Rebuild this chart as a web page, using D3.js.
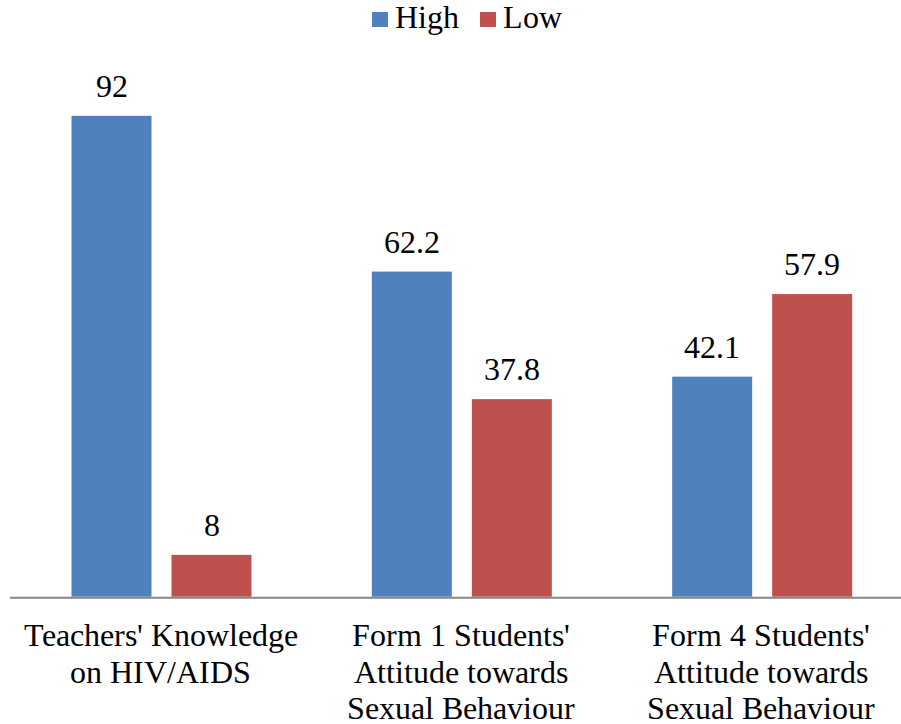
<!DOCTYPE html>
<html>
<head>
<meta charset="utf-8">
<script src="https://cdn.jsdelivr.net/npm/d3@7"></script>
<style>
  @font-face {
    font-family: "ChartSerif";
    src: local("Liberation Serif"), local("LiberationSerif"), local("LiberationSerif-Regular");
  }
  body { margin: 0; background: #fff; }
  svg { display: block; }
</style>
</head>
<body>
<div id="chart"></div>
<script>
// Данные диаграммы
const categories = [
    "Teachers' Knowledge on HIV/AIDS",
    "Form 1 Students' Attitude towards Sexual Behaviour",
    "Form 4 Students' Attitude towards Sexual Behaviour"
];
const categoryLines = [
    ["Teachers' Knowledge", "on HIV/AIDS"],
    ["Form 1 Students'", "Attitude towards", "Sexual Behaviour"],
    ["Form 4 Students'", "Attitude towards", "Sexual Behaviour"]
];
const seriesNames = ["High", "Low"];
const highValues = [92, 62.2, 42.1];
const lowValues = [8, 37.8, 57.9];
const seriesColors = ["#4F81BD", "#C0504D"];

const width = 901;
const height = 724;
const fontStyle = "font-family: ChartSerif, 'Liberation Serif', 'Times New Roman', serif; font-size: 32px;";

const svg = d3.select("#chart")
    .append("svg")
    .attr("width", width)
    .attr("height", height);

const rows = categories.map((c, i) => ({
    category: c,
    lines: categoryLines[i],
    values: [highValues[i], lowValues[i]]
}));

// Шкалы
const x0 = d3.scaleBand()
    .domain(categories)
    .range([11.5, 912.5])
    .padding(0);

const x1 = d3.scaleBand()
    .domain(seriesNames)
    .range([60, 240])
    .paddingInner(0.2)
    .paddingOuter(0);

const y = d3.scaleLinear()
    .domain([0, 100])
    .range([596.7, 74]);

const color = d3.scaleOrdinal()
    .domain(seriesNames)
    .range(seriesColors);

// Столбцы
const group = svg.selectAll(".group")
    .data(rows)
    .enter()
    .append("g")
    .attr("class", "group")
    .attr("transform", d => `translate(${x0(d.category)},0)`);

group.selectAll("rect")
    .data(d => d.values.map((v, i) => ({ name: seriesNames[i], value: v })))
    .enter()
    .append("rect")
    .attr("x", d => x1(d.name))
    .attr("y", d => y(d.value))
    .attr("width", x1.bandwidth())
    .attr("height", d => y(0) - y(d.value))
    .attr("fill", d => color(d.name));

// Подписи значений
group.selectAll(".value")
    .data(d => d.values.map((v, i) => ({ name: seriesNames[i], value: v })))
    .enter()
    .append("text")
    .attr("class", "value")
    .attr("x", d => x1(d.name) + x1.bandwidth() / 2)
    .attr("y", d => y(d.value) - 19)
    .attr("text-anchor", "middle")
    .attr("style", fontStyle)
    .attr("fill", "#000")
    .text(d => d.value);

// Ось X
svg.append("line")
    .attr("x1", 10)
    .attr("x2", width)
    .attr("y1", 597.7)
    .attr("y2", 597.7)
    .attr("stroke", "#868686")
    .attr("stroke-width", 2);

// Подписи категорий
svg.selectAll(".cat")
    .data(rows.flatMap(d => d.lines.map((l, i) => ({ line: l, row: i, category: d.category }))))
    .enter()
    .append("text")
    .attr("class", "cat")
    .attr("x", d => x0(d.category) + x0.bandwidth() / 2 - 1)
    .attr("y", d => 646 + d.row * 36.5)
    .attr("text-anchor", "middle")
    .attr("style", fontStyle)
    .attr("fill", "#000")
    .text(d => d.line);

// Легенда
const legendX = [372, 480];
const legend = svg.selectAll(".legend")
    .data(seriesNames)
    .enter()
    .append("g")
    .attr("class", "legend")
    .attr("transform", (d, i) => `translate(${legendX[i]},12)`);

legend.append("rect")
    .attr("width", 16)
    .attr("height", 15)
    .attr("fill", d => color(d));

legend.append("text")
    .attr("x", 23)
    .attr("y", 16.3)
    .attr("style", fontStyle)
    .attr("fill", "#000")
    .text(d => d);
</script>
</body>
</html>
